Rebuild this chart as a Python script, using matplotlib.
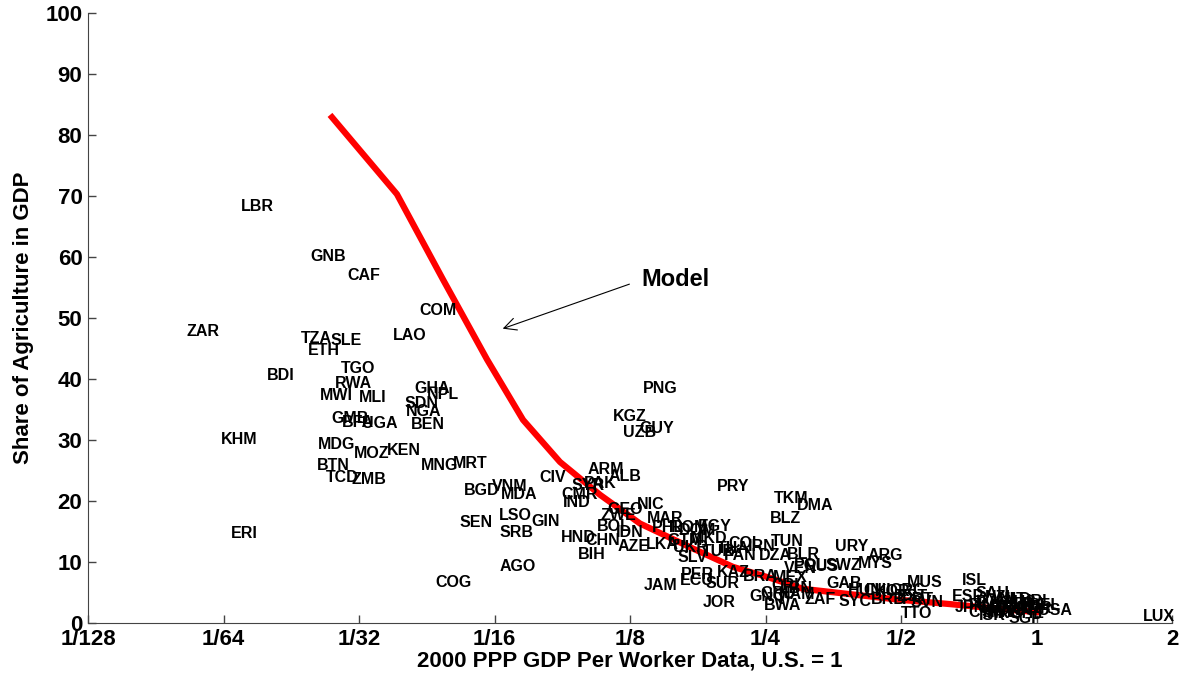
import matplotlib
matplotlib.use('Agg')
import matplotlib.pyplot as plt
import numpy as np

plt.rcParams['font.family'] = ['Liberation Sans', 'DejaVu Sans']
plt.rcParams['font.weight'] = 'bold'

# country codes, GDP per worker relative to the U.S., agriculture share (%)
codes = ['LBR', 'ZAR', 'GNB', 'CAF', 'COM', 'LAO', 'TZA', 'SLE', 'ETH', 'BDI',
         'TGO', 'RWA', 'MWI', 'MLI', 'GHA', 'NPL', 'SDN', 'NGA', 'BEN', 'GMB',
         'BFA', 'UGA', 'KHM', 'MDG', 'MOZ', 'KEN', 'BTN', 'TCD', 'ZMB', 'MNG',
         'MRT', 'ERI', 'BGD', 'VNM', 'MDA', 'SEN', 'LSO', 'SRB', 'GIN', 'AGO',
         'COG', 'CIV', 'ARM', 'ALB', 'PAK', 'SYR', 'CMR', 'IND', 'GEO', 'NIC',
         'ZWE', 'BOL', 'IDN', 'HND', 'CHN', 'BIH', 'AZE', 'MAR', 'PHL', 'LKA',
         'UKR', 'KGZ', 'PNG', 'UZB', 'GUY', 'PRY', 'JAM', 'JOR', 'PER', 'ECU',
         'KAZ', 'SUR', 'BRA', 'EGY', 'ROM', 'DOM', 'GTM', 'MKD', 'SLV', 'TUR',
         'PAN', 'COL', 'THA', 'IRN', 'DZA', 'BLR', 'TUN', 'BLZ', 'TKM', 'DMA',
         'URY', 'ARG', 'SWZ', 'MYS', 'VEN', 'POL', 'RUS', 'MEX', 'CRI', 'LBN',
         'GNQ', 'GRD', 'NAM', 'ZAF', 'BWA', 'GAB', 'HUN', 'CHL', 'KOR', 'GRC',
         'SYC', 'BRB', 'MUS', 'EST', 'PRT', 'SVN', 'TTO', 'ISL', 'ESP', 'SAU',
         'JPN', 'NZL', 'AUT', 'ITA', 'FIN', 'GBR', 'DEU', 'SWE', 'DNK', 'CAN',
         'FRA', 'IRL', 'BEL', 'NOR', 'AUS', 'HKG', 'CYP', 'ISR', 'CHE', 'NLD',
         'SGP', 'USA', 'LUX']
gdp = [0.0186, 0.0141, 0.0267, 0.0321, 0.0468, 0.0406, 0.0251, 0.0292, 0.0261, 0.0209,
       0.0311, 0.0303, 0.0279, 0.0336, 0.0454, 0.0480, 0.0431, 0.0436, 0.0445, 0.0299,
       0.0311, 0.0348, 0.0169, 0.0278, 0.0334, 0.0393, 0.0274, 0.0287, 0.0329, 0.0473,
       0.0551, 0.0174, 0.0586, 0.0676, 0.0709, 0.0569, 0.0694, 0.0701, 0.0813, 0.0705,
       0.0508, 0.0843, 0.1106, 0.1218, 0.1072, 0.1008, 0.0968, 0.0953, 0.1218, 0.1391,
       0.1175, 0.1152, 0.1250, 0.0958, 0.1089, 0.1029, 0.1276, 0.1495, 0.1517, 0.1472,
       0.1699, 0.1250, 0.1457, 0.1315, 0.1435, 0.2117, 0.1465, 0.1971, 0.1762, 0.1762,
       0.2117, 0.2002, 0.2430, 0.1930, 0.1699, 0.1770, 0.1656, 0.1871, 0.1725, 0.1959,
       0.2194, 0.2251, 0.2117, 0.2455, 0.2625, 0.3030, 0.2793, 0.2763, 0.2848, 0.3220,
       0.3889, 0.4612, 0.3716, 0.4381, 0.2982, 0.3140, 0.3340, 0.2834, 0.2763, 0.2935,
       0.2531, 0.2665, 0.2935, 0.3305, 0.2733, 0.3731, 0.4158, 0.4494, 0.4799, 0.5153,
       0.3951, 0.4679, 0.5657, 0.5292, 0.5453, 0.5710, 0.5427, 0.7264, 0.7040, 0.7966,
       0.7114, 0.8299, 0.8728, 0.7803, 0.7568, 0.8091, 0.8645, 0.8299, 0.8956, 0.9286,
       0.9672, 1.0180, 1.0450, 0.9924, 0.9189, 0.8516, 0.7684, 0.7966, 0.9526, 0.8956,
       0.9428, 1.1000, 1.8710]
agshare = [68.3, 47.8, 60.1, 57.0, 51.2, 47.1, 46.6, 46.3, 44.7, 40.6,
           41.7, 39.2, 37.3, 36.9, 38.4, 37.4, 36.0, 34.6, 32.5, 33.5,
           32.8, 32.7, 30.0, 29.2, 27.8, 28.2, 25.9, 23.8, 23.6, 25.9,
           26.1, 14.6, 21.8, 22.3, 21.0, 16.4, 17.7, 14.8, 16.6, 9.2,
           6.6, 23.8, 25.1, 24.0, 22.8, 22.5, 21.0, 19.7, 18.6, 19.4,
           17.7, 15.8, 14.9, 14.0, 13.6, 11.3, 12.5, 17.1, 15.6, 12.8,
           12.3, 33.8, 38.4, 31.2, 31.9, 22.3, 6.2, 3.4, 8.0, 6.9,
           8.2, 6.4, 7.6, 15.8, 15.6, 15.1, 13.5, 13.8, 10.8, 11.8,
           11.0, 13.1, 12.2, 12.5, 11.0, 11.3, 13.3, 17.1, 20.4, 19.2,
           12.6, 11.0, 9.4, 9.7, 9.0, 9.5, 9.2, 7.4, 6.2, 5.7,
           4.4, 4.9, 4.6, 3.9, 2.8, 6.4, 5.4, 5.4, 5.1, 5.4,
           3.6, 3.9, 6.7, 4.4, 3.9, 3.3, 1.6, 6.9, 4.4, 4.8,
           2.5, 4.1, 3.8, 3.3, 2.8, 2.3, 2.6, 1.8, 2.0, 2.6,
           3.1, 3.6, 2.8, 2.3, 3.3, 1.5, 1.8, 1.3, 1.6, 3.8,
           0.7, 2.0, 1.0]

# model prediction
model_gdp = [0.02722, 0.03794, 0.04803, 0.06016, 0.07232, 0.08737, 0.1073, 0.1316,
             0.1725, 0.2117, 0.2558, 0.3030, 0.4976, 0.6425, 0.8299, 1.0]
model_share = [82.9, 70.3, 56.3, 43.2, 33.3, 26.4, 21.0, 16.3,
               12.2, 9.2, 7.4, 5.6, 3.8, 3.1, 2.3, 1.8]

xticks = 2.0 ** np.arange(-7, 2)
xticklabels = ['1/128', '1/64', '1/32', '1/16', '1/8', '1/4', '1/2', '1', '2']

fig = plt.figure(figsize=(11.86, 6.76), dpi=100)
ax = fig.add_axes([0.0742, 0.0784, 0.914, 0.9024])

ax.plot(model_gdp, model_share, color='red', lw=4.5, zorder=2)

for c, x, y in zip(codes, gdp, agshare):
    ax.text(x, y, c, ha='center', va='center', fontsize=11.5,
            fontweight='bold', zorder=3, clip_on=False)

ax.annotate('', xy=(0.0643, 48.1), xytext=(0.1263, 55.7),
            arrowprops=dict(arrowstyle='->', color='black', lw=0.8,
                            mutation_scale=22))
ax.text(0.1581, 56.3, 'Model', ha='center', va='center', fontsize=17,
        fontweight='bold')

ax.set_xscale('log', base=2)
ax.set_xlim(1 / 128, 2)
ax.set_ylim(0, 100)
ax.set_xticks(xticks)
ax.set_xticklabels(xticklabels)
ax.minorticks_off()
ax.set_yticks(np.arange(0, 101, 10))

for s in ['top', 'right']:
    ax.spines[s].set_visible(False)
for s in ['left', 'bottom']:
    ax.spines[s].set_color('#444444')
ax.tick_params(direction='in', length=6, width=1, color='#444444',
               labelsize=16, pad=4)
for lab in ax.get_xticklabels() + ax.get_yticklabels():
    lab.set_fontweight('bold')

ax.set_xlabel('2000 PPP GDP Per Worker Data, U.S. = 1', fontsize=16,
              fontweight='bold', labelpad=1)
ax.set_ylabel('Share of Agriculture in GDP', fontsize=16, fontweight='bold',
              labelpad=8)

fig.savefig('out.png', dpi=100)
